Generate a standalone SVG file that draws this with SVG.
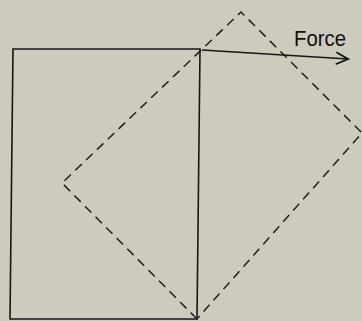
<svg xmlns="http://www.w3.org/2000/svg" width="362" height="321" viewBox="0 0 362 321">
<style>
.solid{fill:none;stroke:#161616;stroke-width:1.6}
.dash{fill:none;stroke:#202020;stroke-width:1.5;stroke-dasharray:9 6}
.lbl{font-family:"Liberation Sans",Arial,sans-serif;font-size:22.5px;fill:#111}
</style>
<defs>
<marker id="arr" markerWidth="16" markerHeight="14" refX="14" refY="7" orient="auto" markerUnits="userSpaceOnUse">
<path d="M2,1 L14,7 L2,13" fill="none" stroke="#161616" stroke-width="1.8"/>
</marker>
</defs>
<rect width="362" height="321" fill="#cccbbc"/>
<g id="block">
<polygon class="solid" points="13,49 200,49 197,319 10,319"/>
</g>
<g id="deformed">
<polygon class="dash" points="197,319 62,183 241,12 362,133"/>
</g>
<g id="connectors">
<line class="solid" x1="202" y1="50" x2="348" y2="59" marker-end="url(#arr)"/>
</g>
<g id="force-label">
<text class="lbl" x="294" y="46" textLength="52" lengthAdjust="spacingAndGlyphs">Force</text>
</g>
</svg>
